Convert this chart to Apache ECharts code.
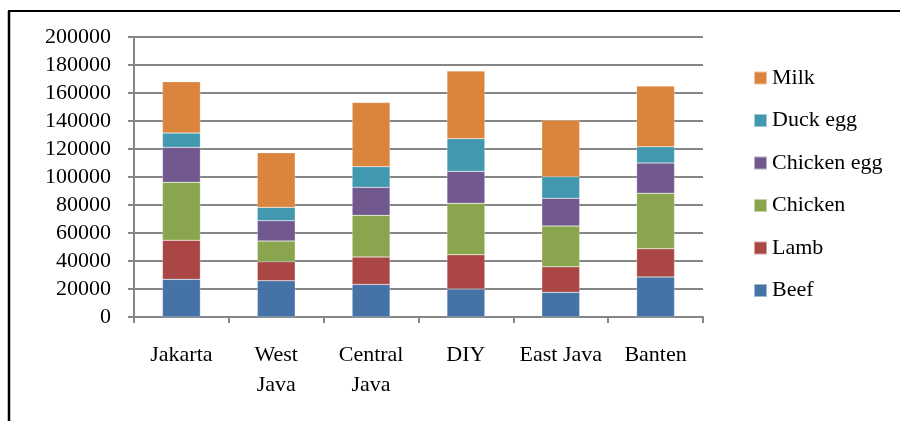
<!DOCTYPE html>
<html><head><meta charset="utf-8">
<script src="https://cdn.jsdelivr.net/npm/echarts@6/dist/echarts.min.js"></script>
<style>html,body{margin:0;padding:0;background:#fff}#c{width:900px;height:421px}</style>
</head><body><div id="c"></div>
<script>
const categories = ['Jakarta', 'West\nJava', 'Central\nJava', 'DIY', 'East Java', 'Banten'];
const beef = [26900, 25900, 23300, 20000, 17600, 28600];
const lamb = [27900, 13600, 19600, 24500, 18300, 20200];
const chicken = [41400, 14800, 29700, 36700, 29100, 39600];
const chickenEgg = [25000, 14500, 20000, 22800, 19800, 21600];
const duckEgg = [10200, 9500, 14800, 23400, 15400, 11600];
const milk = [36700, 39100, 45900, 48300, 40300, 43400];
const seriesNames = ['Beef', 'Lamb', 'Chicken', 'Chicken egg', 'Duck egg', 'Milk'];
const seriesData = [beef, lamb, chicken, chickenEgg, duckEgg, milk];
const colors = ['#4572A7', '#AA4643', '#89A54E', '#71588F', '#4198AF', '#DB843D'];
const font = '"Liberation Serif", "Times New Roman", serif';
const axisGray = '#868686';
const fs = 22;

const chart = echarts.init(document.getElementById('c'), null, {renderer: 'canvas'});
chart.setOption({
  animation: false,
  color: colors,
  textStyle: {fontFamily: font},
  grid: {left: 134, right: 197, top: 37, bottom: 104, containLabel: false},
  legend: {
    orient: 'vertical', left: 748, top: 62, itemGap: 20.5,
    itemWidth: 13, itemHeight: 13, icon: 'rect',
    data: seriesNames.slice().reverse(),
    textStyle: {fontFamily: font, fontSize: fs, color: '#000'}
  },
  xAxis: {
    type: 'category', data: categories, boundaryGap: true,
    axisLine: {lineStyle: {color: axisGray, width: 2}},
    axisTick: {show: true, alignWithLabel: false, length: 6, lineStyle: {color: axisGray, width: 2}},
    axisLabel: {fontFamily: font, fontSize: fs, color: '#000', margin: 23, lineHeight: 30, interval: 0}
  },
  yAxis: {
    type: 'value', min: 0, max: 200000, interval: 20000,
    axisLine: {show: true, lineStyle: {color: axisGray, width: 2}},
    axisTick: {show: true, length: 6, lineStyle: {color: axisGray, width: 2}},
    splitLine: {lineStyle: {color: axisGray, width: 2}},
    axisLabel: {fontFamily: font, fontSize: fs, color: '#000', margin: 23, formatter: v => String(v)}
  },
  series: seriesNames.map((n, i) => ({
    name: n, type: 'bar', stack: 'total', data: seriesData[i], barWidth: '40%',
    itemStyle: {color: colors[i], borderColor: 'rgba(255,255,255,0.5)', borderWidth: 0.5}
  })),
  graphic: [
    {type: 'line', shape: {x1: 9, y1: 11, x2: 9, y2: 421}, style: {stroke: '#000', lineWidth: 2.5}},
    {type: 'line', shape: {x1: 8, y1: 11, x2: 900, y2: 11}, style: {stroke: '#000', lineWidth: 2}}
  ]
});
</script></body></html>
